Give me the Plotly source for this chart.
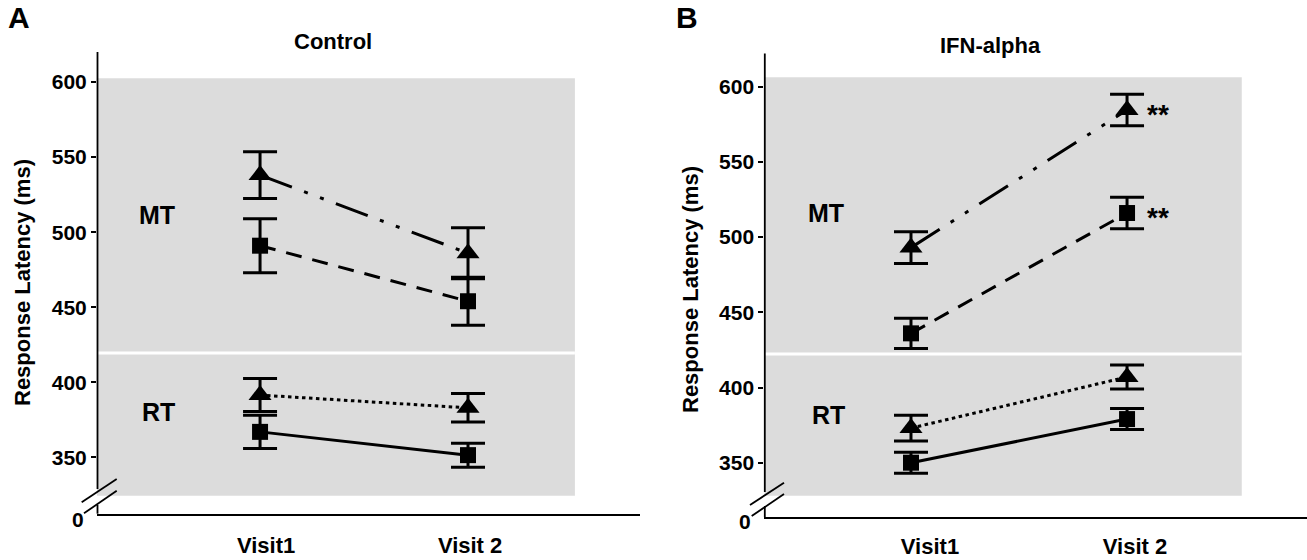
import plotly.graph_objects as go

# ---------------- data ----------------
visits = [1, 2]
visit_labels = ["Visit1", "Visit 2"]

# Control panel (A)
ctrl_mt_tri = [538, 486]
ctrl_mt_tri_err = [15.5, 17]
ctrl_mt_sq = [491, 454]
ctrl_mt_sq_err = [18, 16]
ctrl_rt_tri = [391.5, 383]
ctrl_rt_tri_err = [11, 9.5]
ctrl_rt_sq = [367, 351.5]
ctrl_rt_sq_err = [11, 8]

# IFN-alpha panel (B)
ifn_mt_tri = [493, 584.5]
ifn_mt_tri_err = [10.5, 10.5]
ifn_mt_sq = [436, 516]
ifn_mt_sq_err = [10, 10.5]
ifn_rt_tri = [373, 407]
ifn_rt_tri_err = [8.5, 8]
ifn_rt_sq = [350, 379]
ifn_rt_sq_err = [7, 7]

y_ticks = [350, 400, 450, 500, 550, 600]

# ---------------- figure ----------------
W, H = 1307, 560
FONT = "Liberation Sans, Arial, sans-serif"
fig = go.Figure()

def px(x):
    return x / W

def py(y):
    return 1 - y / H

series_style = [
    # (dash, symbol, size)
    ("34px,13px,4px,13px,4px,13px", "triangle-up", 20),
    ("16px,11px", "square", 16),
    ("3.5px,3.5px", "triangle-up", 20),
    ("solid", "square", 16),
]

panels = [
    dict(xa="x", ya="y",
         data=[(ctrl_mt_tri, ctrl_mt_tri_err), (ctrl_mt_sq, ctrl_mt_sq_err),
               (ctrl_rt_tri, ctrl_rt_tri_err), (ctrl_rt_sq, ctrl_rt_sq_err)]),
    dict(xa="x2", ya="y2",
         data=[(ifn_mt_tri, ifn_mt_tri_err), (ifn_mt_sq, ifn_mt_sq_err),
               (ifn_rt_tri, ifn_rt_tri_err), (ifn_rt_sq, ifn_rt_sq_err)]),
]

for p in panels:
    for (vals, errs), (dash, sym, msize) in zip(p["data"], series_style):
        fig.add_trace(go.Scatter(
            x=visits, y=vals, xaxis=p["xa"], yaxis=p["ya"],
            mode="lines+markers",
            line=dict(color="black", width=3, dash=dash),
            marker=dict(symbol=sym, size=msize, color="black"),
            error_y=dict(type="data", array=errs, visible=True,
                         color="black", thickness=3, width=17),
            showlegend=False, hoverinfo="skip", cliponaxis=False,
        ))

# axis geometry
LX_RANGE = [0.216, 2.827]
RX_RANGE = [0.321, 2.833]
LY_RANGE = [312.5, 620]
RY_RANGE = [313.7, 622]

tickfont = dict(family=FONT, size=21, color="black", weight="bold")
xtickfont = dict(family=FONT, size=22, color="black", weight="bold")

common = dict(showgrid=False, zeroline=False, automargin=False, fixedrange=True)

fig.update_layout(
    width=W, height=H,
    margin=dict(l=0, r=0, t=0, b=0, pad=0, autoexpand=False),
    paper_bgcolor="white", plot_bgcolor="white",
    font=dict(family=FONT, color="black"),
    xaxis=dict(domain=[px(97), px(640)], range=LX_RANGE,
               showline=True, linecolor="black", linewidth=2,
               tickvals=[1.029, 2.01], ticktext=visit_labels, ticks="",
               ticklabelstandoff=11, tickfont=xtickfont, anchor="y", **common),
    yaxis=dict(domain=[py(513.7), py(52)], range=LY_RANGE,
               showline=False, tickvals=y_ticks,
               ticks="outside", ticklen=5, tickwidth=1.5, tickcolor="black",
               tickfont=tickfont, anchor="x", **common),
    xaxis2=dict(domain=[px(764.3), 1.0], range=RX_RANGE,
                showline=True, linecolor="black", linewidth=2,
                tickvals=[1.088, 2.037], ticktext=visit_labels, ticks="",
                ticklabelstandoff=8, tickfont=xtickfont, anchor="y2", **common),
    yaxis2=dict(domain=[py(517.3), py(53.6)], range=RY_RANGE,
                showline=False, tickvals=y_ticks,
                ticks="outside", ticklen=5, tickwidth=1.5, tickcolor="black",
                tickfont=tickfont, anchor="x2", **common),
)

shapes = []
# gray backgrounds and white separators
bg = [
    ("x", "y", LX_RANGE[0], 2.514, 324.5, 602.5, 419.5),
    ("x2", "y2", RX_RANGE[0], 2.531, 328, 606.3, 422.3),
]
for xr, yr, x0, x1, y0, y1, sep in bg:
    shapes.append(dict(type="rect", xref=xr, yref=yr, x0=x0, x1=x1, y0=y0, y1=y1,
                       fillcolor="#dcdcdc", line=dict(width=0), layer="below"))
    shapes.append(dict(type="line", xref=xr, yref=yr, x0=x0, x1=x1, y0=sep, y1=sep,
                       line=dict(color="white", width=3), layer="below"))

# y axis lines with break marks (pixel positions -> paper)
axis_breaks = [
    (97.5, 52, 489, 505, 513.7, ((81.7, 502.3), (116.7, 479)), ((84, 513.3), (116.7, 490.7))),
    (764.8, 53.6, 492, 506, 517.3, ((750, 505), (784, 482.7)), ((751.7, 516), (784, 494))),
]
for ax, top, up_end, lo_start, bot, s1, s2 in axis_breaks:
    shapes.append(dict(type="line", xref="paper", yref="paper",
                       x0=px(ax), x1=px(ax), y0=py(top), y1=py(up_end),
                       line=dict(color="black", width=1.8)))
    shapes.append(dict(type="line", xref="paper", yref="paper",
                       x0=px(ax), x1=px(ax), y0=py(lo_start), y1=py(bot),
                       line=dict(color="black", width=1.8)))
    for (a, b) in (s1, s2):
        shapes.append(dict(type="line", xref="paper", yref="paper",
                           x0=px(a[0]), x1=px(b[0]), y0=py(a[1]), y1=py(b[1]),
                           line=dict(color="black", width=1.8)))
fig.update_layout(shapes=shapes)

ann = []
def text(x, y, s, size, **kw):
    ann.append(dict(x=px(x), y=py(y), xref="paper", yref="paper", text=s,
                    showarrow=False,
                    font=dict(family=FONT, size=size, color="black", weight="bold"),
                    xanchor=kw.pop("xanchor", "center"), yanchor=kw.pop("yanchor", "middle"),
                    **kw))

text(19, 17, "A", 30)
text(687, 17, "B", 30)
text(333, 42, "Control", 22)
text(990, 45, "IFN-alpha", 22)
text(22, 283, "Response Latency (ms)", 22, textangle=-90)
text(690, 290, "Response Latency (ms)", 22, textangle=-90)
text(157, 215, "MT", 25)
text(158, 412, "RT", 25)
text(826, 213, "MT", 25)
text(828, 415, "RT", 25)
text(78, 519, "0", 21)
text(745, 521, "0", 21)
fig.update_layout(annotations=ann)

# significance asterisks next to Visit 2 MT points (IFN-alpha)
for v in (ifn_mt_tri[1], ifn_mt_sq[1]):
    fig.add_annotation(x=2, y=v, xref="x2", yref="y2", text="**",
                       showarrow=False, xanchor="left", xshift=18, yshift=-4,
                       font=dict(family=FONT, size=28, color="black", weight="bold"))

fig.write_html("out.html")
